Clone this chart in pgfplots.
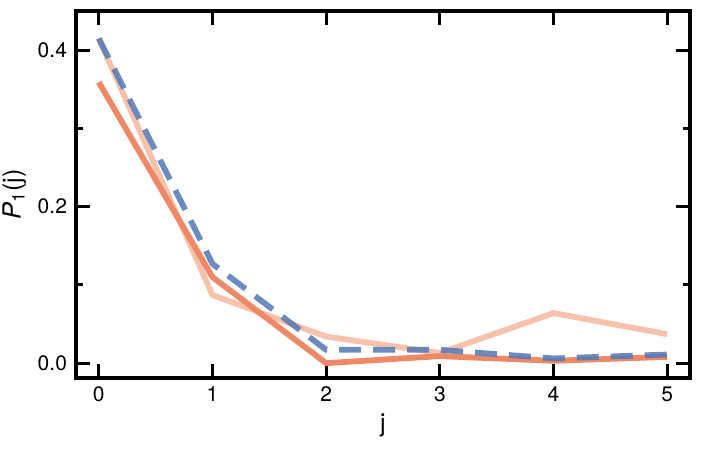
\documentclass[border=0pt]{standalone}
\usepackage{fontspec}
\setmainfont{TeX Gyre Heros}
\usepackage{pgfplots}
\pgfplotsset{compat=1.18}
\definecolor{darkor}{RGB}{238,136,102}
\definecolor{lightor}{RGB}{246,194,172}
\definecolor{dblue}{RGB}{82,120,182}
\begin{document}
\begin{tikzpicture}
	\begin{axis}[
		width=307pt, height=183.5pt,
		scale only axis,
		xmin=-0.2, xmax=5.2,
		ymin=-0.019, ymax=0.45,
		xtick={0,1,2,3,4,5},
		ytick={0,0.2,0.4},
		minor ytick={0.1,0.3},
		tick align=inside,
		major tick length=7pt,
		minor tick length=3.5pt,
		every tick/.style={black, line width=1.6pt},
		axis line style={line width=1.7pt},
		tick label style={font=\fontsize{10.5}{12}\selectfont},
		yticklabel style={/pgf/number format/fixed, /pgf/number format/precision=1, /pgf/number format/fixed zerofill, xshift=-1pt},
		xticklabel style={yshift=-1pt},
		/pgf/number format/assume math mode=true,
		xlabel={j},
		ylabel={\textit{P}\textsubscript{1}(j)},
		label style={font=\fontsize{12.5}{14}\selectfont},
		xlabel style={yshift=1pt},
		ylabel style={yshift=-1pt},
		clip=false,
		]
		\coordinate (bl) at (rel axis cs:0,0);
		\coordinate (tr) at (rel axis cs:1,1);
		\addplot[lightor, line width=2.9pt] coordinates {(0,0.415)(1,0.087)(2,0.034)(3,0.013)(4,0.064)(5,0.037)};
		\addplot[darkor, line width=2.9pt] coordinates {(0,0.359)(1,0.110)(2,0.000)(3,0.009)(4,0.003)(5,0.008)};
		\addplot[dblue, line width=2.9pt, opacity=0.85, dash pattern=on 11pt off 6pt] coordinates {(0,0.415)(1,0.127)(2,0.017)(3,0.017)(4,0.006)(5,0.011)};
	\end{axis}
	\pgfresetboundingbox
	\path[use as bounding box] ([shift={(-38pt,-37.5pt)}]bl) rectangle ([shift={(8pt,5.5pt)}]tr);
\end{tikzpicture}
\end{document}
